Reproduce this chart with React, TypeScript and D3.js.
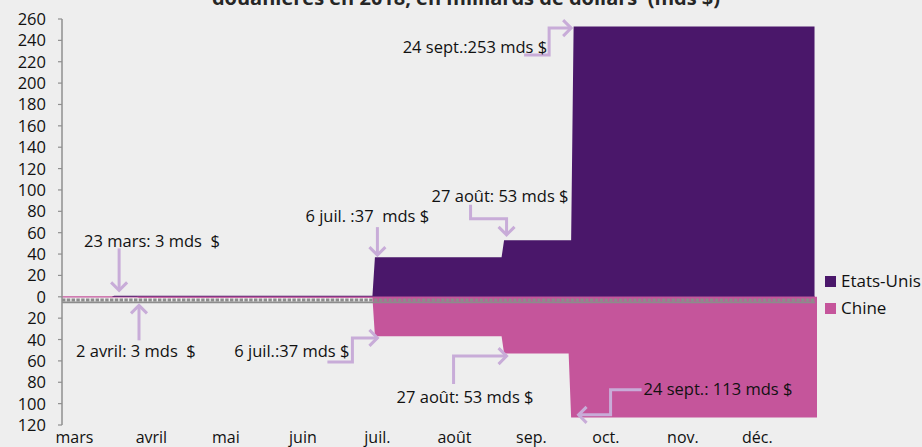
import React from "react";
import * as d3 from "d3";

const W = 922;
const H = 447;

const parse = d3.timeParse("%Y-%m-%d");

const usDates = ["2018-03-02", "2018-03-22", "2018-03-23", "2018-07-05", "2018-07-06", "2018-08-26", "2018-08-27", "2018-09-23", "2018-09-24", "2018-12-30"];
const usValues = [0, 0, 1, 1, 37, 37, 53, 53, 253, 253];

const cnDates = ["2018-03-02", "2018-04-01", "2018-04-02", "2018-07-05", "2018-07-06", "2018-08-26", "2018-08-27", "2018-09-22", "2018-09-23", "2018-12-31"];
const cnValues = [0, 0, 1, 1, 37, 37, 53, 53, 113, 113];

const yTickValues = [260, 240, 220, 200, 180, 160, 140, 120, 100, 80, 60, 40, 20, 0, -20, -40, -60, -80, -100, -120];

const monthStarts = ["2018-03-01", "2018-04-01", "2018-05-01", "2018-06-01", "2018-07-01", "2018-08-01", "2018-09-01", "2018-10-01", "2018-11-01", "2018-12-01"];
const monthLabels = ["mars", "avril", "mai", "juin", "juil.", "août", "sep.", "oct.", "nov.", "déc."];

const seriesNames = ["Etats-Unis", "Chine"];
const seriesColors = ["#4a176a", "#c5559b"];

// annotations anchored at (date, value); path / text offsets in px relative to tip
const annTexts = ["23 mars: 3 mds  $", "2 avril: 3 mds  $", "6 juil. :37  mds $", "27 août: 53 mds $", "6 juil.:37 mds $", "27 août: 53 mds $", "24 sept.:253 mds $", "24 sept.: 113 mds $"];
const annDates = ["2018-03-25", "2018-04-02", "2018-07-07", "2018-08-28", "2018-07-07", "2018-08-28", "2018-09-23", "2018-09-26"];
const annValues = [6, -8, 39, 58, -38.5, -55.5, 251.5, -110.5];

const annPaths: [number, number][][] = [
  [[0, -42], [0, 0]],
  [[0, 35], [0, 0]],
  [[0, -28], [0, 0]],
  [[-36, -30], [-36, -16], [0, -16], [0, 0]],
  [[-50, 24], [-25, 24], [-25, 0], [0, 0]],
  [[-53, 28], [-53, 0], [0, 0]],
  [[-47, 27], [-22, 27], [-22, 0], [0, 0]],
  [[63, -25], [32, -25], [32, 0], [0, 0]],
];
const annHeads = ["down", "up", "down", "down", "right", "right", "right", "left"];
const annTextPos: [number, number, string][] = [
  [-35, -43, "start"],
  [-63, 52, "start"],
  [-72, -33, "start"],
  [-75, -33, "start"],
  [-28, 19, "end"],
  [-110, 47, "start"],
  [-24, 25, "end"],
  [65, -20, "start"],
];

const FONT = "'Open Sans', 'Noto Sans', sans-serif";
const ARROW = "#c8acd8";

export default function App() {
  const x = d3.scaleTime().domain([parse("2018-03-02")!, parse("2018-12-31")!]).range([62, 817]);
  const y = d3.scaleLinear().domain([-120, 260]).range([425, 19]);

  const us = usDates.map((d, i) => ({ d: parse(d)!, v: usValues[i] }));
  const cn = cnDates.map((d, i) => ({ d: parse(d)!, v: -cnValues[i] }));

  const area = d3
    .area<{ d: Date; v: number }>()
    .x((p) => x(p.d))
    .y0(y(0))
    .y1((p) => y(p.v))
    .curve(d3.curveLinear);

  const y0 = y(0);
  const x0 = x.range()[0];
  const xEnd = x.range()[1];

  const head = (dir: string) => {
    const a = 8;
    if (dir === "down") return `M${-a},${-a} L0,0 L${a},${-a}`;
    if (dir === "up") return `M${-a},${a} L0,0 L${a},${a}`;
    if (dir === "right") return `M${-a},${-a} L0,0 L${-a},${a}`;
    return `M${a},${-a} L0,0 L${a},${a}`;
  };

  return (
    <div style={{ position: "fixed", left: 0, top: 0, width: W, height: H }}>
      <svg width={W} height={H} style={{ display: "block" }}>
        <rect x={0} y={0} width={W} height={H} fill="#eeeeee" />
        <text x={466} y={5} textAnchor="middle" fontFamily={FONT} fontSize={20} fontWeight="bold" fill="#262626" style={{ whiteSpace: "pre" }}>
          douanières en 2018, en milliards de dollars  (mds $)
        </text>

        {/* zero line */}
        <line x1={x0} x2={xEnd - 2} y1={y0} y2={y0} stroke={seriesColors[1]} strokeWidth={1.3} />

        {/* areas */}
        <path d={area(us) || ""} fill={seriesColors[0]} />
        <path d={area(cn) || ""} fill={seriesColors[1]} />

        {/* gray band along zero */}
        <line x1={x0} x2={xEnd - 2} y1={y0 + 5.6} y2={y0 + 5.6} stroke="#8c8c8c" strokeWidth={1.8} />
        <line x1={x0} x2={xEnd - 2} y1={y0 + 3.2} y2={y0 + 3.2} stroke="#8c8c8c" strokeWidth={3} strokeDasharray="3.4 1.4" />

        {/* y axis */}
        <line x1={x0} x2={x0} y1={y(260)} y2={y(-120)} stroke="#8f8f8f" strokeWidth={1.5} />
        {yTickValues.map((t) => (
          <g key={t}>
            <line x1={x0 - 4} x2={x0} y1={y(t)} y2={y(t)} stroke="#8f8f8f" strokeWidth={1.2} />
            <text x={46} y={y(t) + 6} textAnchor="end" fontFamily={FONT} fontSize={16.5} fill="#111">
              {Math.abs(t)}
            </text>
          </g>
        ))}

        {/* x labels */}
        {monthStarts.map((m, i) => (
          <text
            key={m}
            x={x(d3.timeDay.offset(parse(m)!, 6))}
            y={443}
            textAnchor="middle"
            fontFamily={FONT}
            fontSize={16}
            fill="#111"
          >
            {monthLabels[i]}
          </text>
        ))}

        {/* annotations */}
        {annTexts.map((t, i) => {
          const tx = x(parse(annDates[i])!);
          const ty = y(annValues[i]);
          const pts = annPaths[i];
          const d = "M" + pts.map((p) => `${p[0]},${p[1]}`).join(" L");
          const [dx, dy, anchor] = annTextPos[i];
          return (
            <g key={i} transform={`translate(${tx},${ty})`}>
              <path d={d} fill="none" stroke={ARROW} strokeWidth={3} />
              <path d={head(annHeads[i])} fill="none" stroke={ARROW} strokeWidth={3} />
              <text x={dx} y={dy} textAnchor={anchor as any} fontFamily={FONT} fontSize={16.5} fill="#111" style={{ whiteSpace: "pre" }}>
                {t}
              </text>
            </g>
          );
        })}

        {/* legend */}
        {seriesNames.map((n, i) => (
          <g key={n} transform={`translate(825,${276 + i * 27})`}>
            <rect x={0} y={0} width={11} height={11} fill={seriesColors[i]} />
            <text x={16} y={11} fontFamily={FONT} fontSize={17} fill="#111">
              {n}
            </text>
          </g>
        ))}
      </svg>
    </div>
  );
}
